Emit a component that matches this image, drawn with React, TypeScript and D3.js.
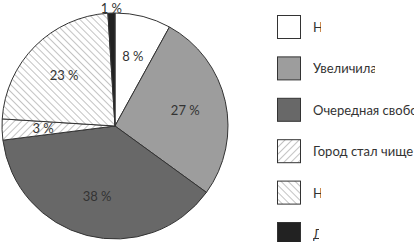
import * as d3 from 'd3';
import React from 'react';

const labels = ['Новые парки', 'Увеличилась зарплата', 'Очередная свобода', 'Город стал чище', 'Нет изменений', 'Другое'];
const values = [8, 27, 38, 3, 23, 1];
const fills = ['#ffffff', '#9d9d9d', '#686868', 'url(#hatchF)', 'url(#hatchB)', '#222222'];
// visible width of each legend text (the original is cut off)
const clipW = [8, 62, 101, 101, 8, 6];

const W = 414, H = 242;
const cx = 115, cy = 126, R = 113;

export default function App() {
  const pie = d3.pie<number>().sort(null).value(d => d)(values);
  const arc = d3.arc<d3.PieArcDatum<number>>().innerRadius(0).outerRadius(R);
  const labelArc = d3.arc<d3.PieArcDatum<number>>().innerRadius(72).outerRadius(72);
  const outArc = d3.arc<d3.PieArcDatum<number>>().innerRadius(118).outerRadius(118);
  const y = d3.scalePoint<number>().domain(d3.range(labels.length)).range([15, 222]);

  return (
    <svg width={W} height={H} style={{ position: 'absolute', left: 0, top: 0 }}
      fontFamily="Lato, sans-serif">
      <defs>
        <pattern id="hatchF" width="5" height="5" patternUnits="userSpaceOnUse" patternTransform="rotate(45)">
          <rect width="5" height="5" fill="#fff" />
          <line x1="0" y1="0" x2="0" y2="5" stroke="#888" strokeWidth="1" />
        </pattern>
        <pattern id="hatchB" width="5" height="5" patternUnits="userSpaceOnUse" patternTransform="rotate(-45)">
          <rect width="5" height="5" fill="#fff" />
          <line x1="0" y1="0" x2="0" y2="5" stroke="#888" strokeWidth="1" />
        </pattern>
        {labels.map((l, i) => (
          <clipPath id={'lc' + i} key={i}>
            <rect x={313} y={y(i)! - 5} width={clipW[i]} height={35} />
          </clipPath>
        ))}
      </defs>
      <rect width={W} height={H} fill="#fff" />
      <g transform={`translate(${cx},${cy})`}>
        {pie.map((p, i) => (
          <path key={i} d={arc(p)!} fill={fills[i]} stroke="#333" strokeWidth={1} />
        ))}
        {pie.map((p, i) => {
          const [lx, ly] = i === 5 ? outArc.centroid(p) : labelArc.centroid(p);
          return (
            <text key={i} x={lx} y={ly} textAnchor="middle" dominantBaseline="central"
              fontSize={13} fill="#333">{values[i]} %</text>
          );
        })}
      </g>
      {labels.map((l, i) => (
        <g key={i}>
          <rect x={277.5} y={y(i)! + 0.5} width={23} height={23} fill={fills[i]} stroke="#333" strokeWidth={1} />
          <text x={313} y={y(i)! + 12} dominantBaseline="central" fontSize={13} fill="#333"
            clipPath={`url(#lc${i})`}>{l}</text>
        </g>
      ))}
    </svg>
  );
}
